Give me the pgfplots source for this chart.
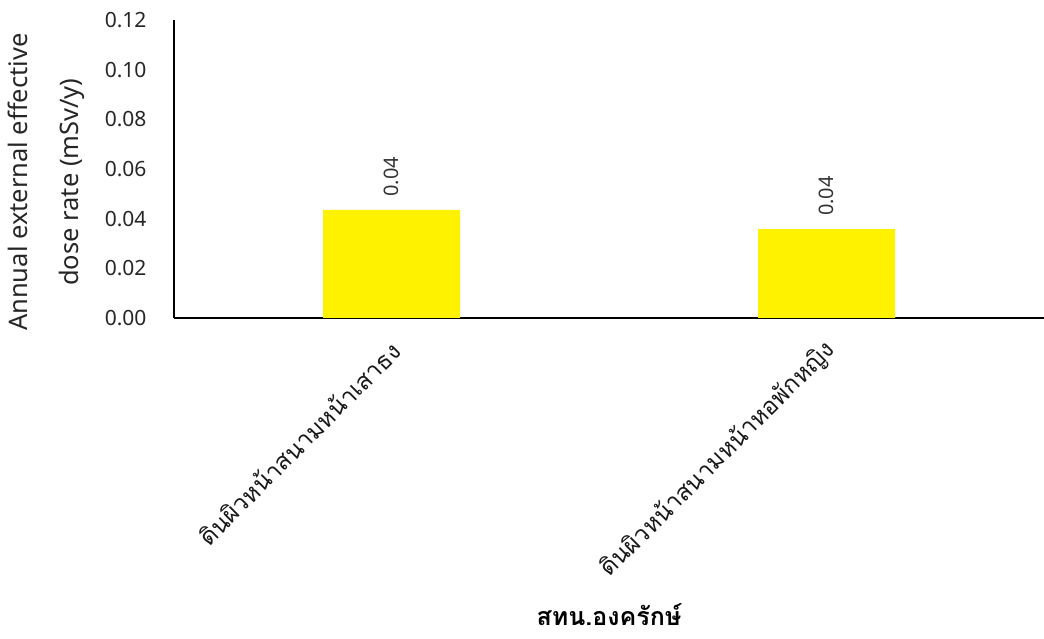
\documentclass[border=0pt]{standalone}
\usepackage{pgfplots}
\pgfplotsset{compat=1.18}
\usepackage{fontspec}
\setmainfont{Noto Sans}
\newfontfamily\thaifont[Script=Thai]{Loma}
\begin{document}
\begin{tikzpicture}[x=1pt,y=1pt]
\useasboundingbox (0,0) rectangle (1044,639);
\begin{axis}[
  at={(174pt,321pt)}, anchor=south west,
  scale only axis, width=870pt, height=298pt,
  axis lines*=left,
  axis line style={black, line width=1.3pt},
  xmin=-0.5, xmax=1.5, ymin=0, ymax=0.12,
  ytick={0,0.02,0.04,0.06,0.08,0.1,0.12},
  major tick length=0pt,
  /pgf/number format/assume math mode=true,
  yticklabel style={/pgf/number format/.cd, fixed, fixed zerofill, precision=2, /tikz/.cd,
    font=\fontsize{21}{24}\selectfont, text=black!85, xshift=-24pt},
  xtick={0,1},
  xticklabels={ดินผิวหน้าสนามหน้าเสาธง, ดินผิวหน้าสนามหน้าหอพักหญิง},
  xticklabel style={yshift=-26pt, xshift=7pt, rotate=45, anchor=east,
    font=\thaifont\fontsize{24}{27}\selectfont, text=black!90},
  xlabel={\thaifont\bfseries สทน.องครักษ์},
  xlabel style={at={(axis description cs:0.5,-0.995)}, anchor=center, inner sep=0pt,
    font=\fontsize{25}{28}\selectfont},
  ylabel={Annual external effective\\dose rate (mSv/y)},
  ylabel style={align=center, at={(axis description cs:-0.147,0.456)}, anchor=center,
    font=\fontsize{25.5}{51}\selectfont, text=black!85},
  ybar, bar width=137pt,
  nodes near coords,
  nodes near coords style={/pgf/number format/.cd, fixed, fixed zerofill, precision=2, /tikz/.cd,
    rotate=90, anchor=west, inner xsep=13pt, font=\fontsize{20}{22}\selectfont, text=black!80},
  clip=false,
]
\addplot[fill=yellow, draw=none] coordinates {(0,0.0435) (1,0.0358)};
\end{axis}
\end{tikzpicture}
\end{document}
